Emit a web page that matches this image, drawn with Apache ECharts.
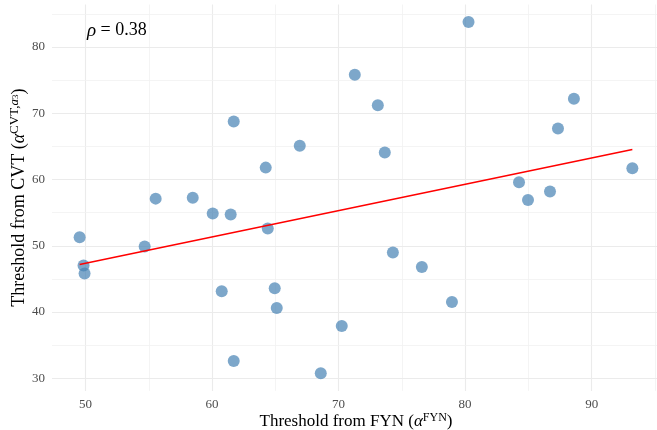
<!DOCTYPE html>
<html><head><meta charset="utf-8">
<script src="https://cdn.jsdelivr.net/npm/echarts@6/dist/echarts.min.js"></script>
<style>html,body{margin:0;padding:0;background:#fff;}#c{width:657px;height:430px;}</style>
</head><body><div id="c"></div>
<script>
// Threshold from FYN (x) and from CVT (y)
const fynThreshold = [49.53,49.84,49.92,54.67,55.54,58.47,60.05,61.47,60.76,61.71,61.71,64.24,64.40,64.95,65.11,66.93,68.59,70.25,71.28,73.10,73.65,74.29,76.58,78.96,80.27,84.26,84.97,86.71,87.34,88.60,93.22];
const cvtThreshold = [51.28,47.03,45.83,49.89,57.12,57.27,54.86,54.71,43.15,68.75,32.60,61.80,52.60,43.60,40.60,65.10,30.75,37.90,75.80,71.20,64.10,49.00,46.80,41.50,83.77,59.60,56.90,58.20,67.70,72.20,61.70];
const xGridValues = [50,55,60,65,70,75,80,85,90,95];
const yGridValues = [30,35,40,45,50,55,60,65,70,75,80,85];
const xMajor = [50,60,70,80,90];
const yMajor = [30,40,50,60,70,80];
const rhoText = '0.38';

const pts = fynThreshold.map((x,i)=>[x, cvtThreshold[i]]);
// least squares fit over the data range
const n = pts.length;
const mx = fynThreshold.reduce((a,b)=>a+b,0)/n;
const my = cvtThreshold.reduce((a,b)=>a+b,0)/n;
let sxy=0,sxx=0;
for (let i=0;i<n;i++){sxy+=(fynThreshold[i]-mx)*(cvtThreshold[i]-my);sxx+=(fynThreshold[i]-mx)**2;}
const slope = sxy/sxx, icpt = my - slope*mx;
const xLo = Math.min(...fynThreshold), xHi = Math.max(...fynThreshold);
const yLo = Math.min(...cvtThreshold), yHi = Math.max(...cvtThreshold);
const fitLine = [[xLo, icpt+slope*xLo],[xHi, icpt+slope*xHi]];
const xPad = (xHi-xLo)*0.05, yPad = (yHi-yLo)*0.05;

const serif = '"Liberation Serif","DejaVu Serif",serif';
const gridItems = (vals, key, major) => vals.map(v=>({[key]: v,
  lineStyle:{type:'solid', color: major.includes(v)?'#EBEBEB':'#F1F1F1', width: major.includes(v)?1.1:0.8}}));

const chart = echarts.init(document.getElementById('c'), null, {renderer:'canvas'});
chart.setOption({
  animation:false,
  backgroundColor:'#fff',
  grid:{left:52, top:4.5, width:608, height:386.4, containLabel:false, outerBoundsMode:'none'},
  xAxis:{type:'value', min:xLo-xPad, max:xHi+xPad, splitNumber:5,
    axisLine:{show:false}, axisTick:{show:false}, splitLine:{show:false},
    axisLabel:{color:'#4D4D4D', fontFamily:serif, fontSize:13, margin:7,
      formatter:v=> xMajor.includes(v)?String(v):''},
    name:'{t|Threshold from FYN (}{i|α}{s|FYN}{t|)}', nameLocation:'middle', nameGap:21, nameMoveOverlap:false,
    nameTextStyle:{fontFamily:serif, color:'#000', rich:{
      t:{fontFamily:serif,fontSize:17,color:'#000'},
      i:{fontFamily:serif,fontSize:17,fontStyle:'italic',color:'#000'},
      s:{fontFamily:serif,fontSize:12,color:'#000',padding:[0,0,8,0]}}}
  },
  yAxis:{type:'value', min:yLo-yPad, max:yHi+yPad, splitNumber:5,
    axisLine:{show:false}, axisTick:{show:false}, splitLine:{show:false},
    axisLabel:{color:'#4D4D4D', fontFamily:serif, fontSize:13, margin:7,
      formatter:v=> yMajor.includes(v)?String(v):''},
    name:'{t|Threshold from CVT (}{i|α}{s|CVT,}{si|a}{ss|3}{t|)}', nameLocation:'middle', nameGap:22, nameMoveOverlap:false,
    nameTextStyle:{fontFamily:serif, color:'#000', rich:{
      t:{fontFamily:serif,fontSize:18,color:'#000'},
      i:{fontFamily:serif,fontSize:18,fontStyle:'italic',color:'#000'},
      s:{fontFamily:serif,fontSize:13,color:'#000',padding:[0,0,9,0]},
      si:{fontFamily:serif,fontSize:13,fontStyle:'italic',color:'#000',padding:[0,0,9,0]},
      ss:{fontFamily:serif,fontSize:9,color:'#000',padding:[0,0,6,0]}}}
  },
  series:[
    {type:'scatter', data:[], z:0, silent:true,
      markLine:{silent:true, z:0, zlevel:0, symbol:['none','none'], animation:false, label:{show:false},
        data: gridItems(xGridValues,'xAxis',xMajor).concat(gridItems(yGridValues,'yAxis',yMajor))}},
    {type:'scatter', data:pts, symbolSize:12, z:3,
      itemStyle:{color:'#4682B4', opacity:0.7}},
    {type:'line', data:fitLine, symbol:'none', z:4, lineStyle:{color:'#FF0000', width:1.6}}
  ],
  graphic:[{type:'text', left:87, top:21, style:{
    text:'{i|ρ}{t| = '+rhoText+'}', font:'18px '+serif,
    rich:{i:{fontFamily:serif,fontSize:19,fontStyle:'italic',fill:'#000'},t:{fontFamily:serif,fontSize:18,fill:'#000'}}}}]
});
</script></body></html>
